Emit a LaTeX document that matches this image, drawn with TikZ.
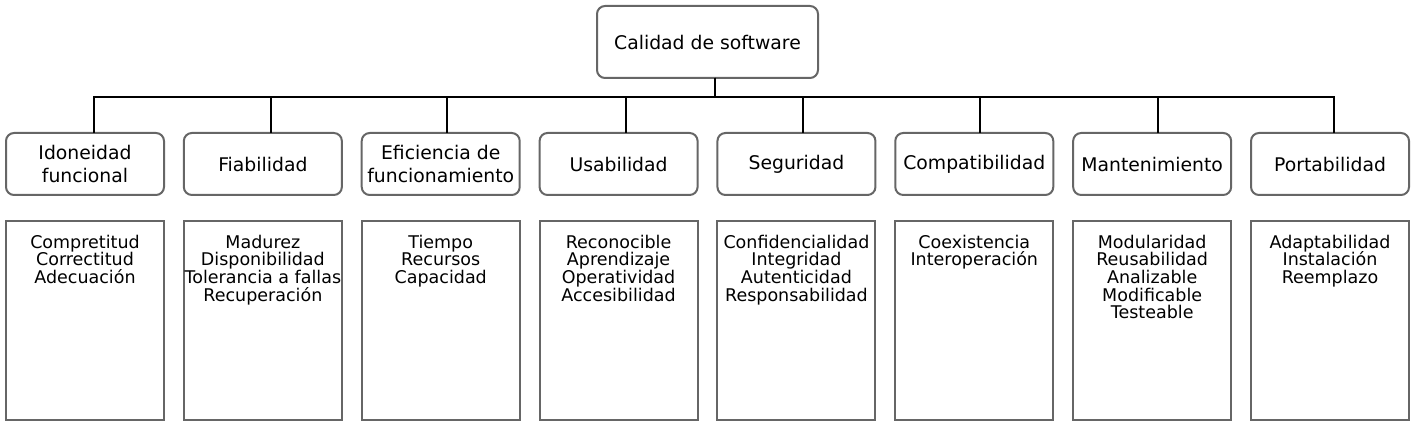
\documentclass[tikz,border=0pt]{standalone}
\usepackage{fontspec}
\setmainfont{DejaVu Sans}
\usetikzlibrary{positioning}
\definecolor{borde}{HTML}{666666}
\newcommand\textolista{\fontsize{8.75}{8.8}\selectfont\lineskiplimit-10pt\relax}
\tikzset{
    caja/.style={draw=borde, line width=1pt, rounded corners=4pt, fill=white,
        outer sep=0pt, inner sep=1pt, align=center},
    raiz/.style={caja, minimum width=110.5pt, minimum height=36pt,
        font=\fontsize{9.4}{11.6}\selectfont},
    atributo/.style={caja, minimum width=79pt, minimum height=31pt,
        font=\fontsize{9.4}{11.6}\selectfont},
    lista/.style={draw=borde, line width=1pt, outer sep=0pt,
        minimum width=79pt, minimum height=99.5pt},
    listatexto/.style={anchor=north, align=center, inner sep=0pt, yshift=-6.8pt,
        font=\textolista},
    conector/.style={draw=black, line width=1pt},
}
\begin{document}
\begin{tikzpicture}
    \useasboundingbox (0,0) rectangle (707.5pt,-213pt);
    \node[raiz] (calidad) at (353.75pt,-21pt) {Calidad de software};
    % atributos
    \node[atributo] (idoneidad) at (42.5pt,-82pt) {Idoneidad\\funcional};
    \node[atributo, right=9.93pt of idoneidad] (fiabilidad) {Fiabilidad};
    \node[atributo, right=9.93pt of fiabilidad] (eficiencia) {Eficiencia de\\funcionamiento};
    \node[atributo, right=9.93pt of eficiencia] (usabilidad) {Usabilidad};
    \node[atributo, right=9.93pt of usabilidad] (seguridad) {Seguridad};
    \node[atributo, right=9.93pt of seguridad] (compatibilidad) {Compatibilidad};
    \node[atributo, right=9.93pt of compatibilidad] (mantenimiento) {Mantenimiento};
    \node[atributo, right=9.93pt of mantenimiento] (portabilidad) {Portabilidad};
    % subcaracteristicas
    \node[lista, below=13pt of idoneidad,
        label={[listatexto]north:{Compretitud\\Correctitud\\Adecuación}}] (l-idoneidad) {};
    \node[lista, below=13pt of fiabilidad,
        label={[listatexto]north:{Madurez\\Disponibilidad\\Tolerancia a fallas\\Recuperación}}] (l-fiabilidad) {};
    \node[lista, below=13pt of eficiencia,
        label={[listatexto]north:{Tiempo\\Recursos\\Capacidad}}] (l-eficiencia) {};
    \node[lista, below=13pt of usabilidad,
        label={[listatexto]north:{Reconocible\\Aprendizaje\\Operatividad\\Accesibilidad}}] (l-usabilidad) {};
    \node[lista, below=13pt of seguridad,
        label={[listatexto]north:{Confidencialidad\\Integridad\\Autenticidad\\Responsabilidad}}] (l-seguridad) {};
    \node[lista, below=13pt of compatibilidad,
        label={[listatexto]north:{Coexistencia\\Interoperación}}] (l-compatibilidad) {};
    \node[lista, below=13pt of mantenimiento,
        label={[listatexto]north:{Modularidad\\Reusabilidad\\Analizable\\Modificable\\Testeable}}] (l-mantenimiento) {};
    \node[lista, below=13pt of portabilidad,
        label={[listatexto]north:{Adaptabilidad\\Instalación\\Reemplazo}}] (l-portabilidad) {};
    % conectores
    \coordinate (bus) at ([xshift=3.5pt,yshift=-9.5pt]calidad.south);
    \foreach \n/\d in {idoneidad/4.5,fiabilidad/4,eficiencia/3,usabilidad/3.5,
        seguridad/3.5,compatibilidad/3,mantenimiento/3,portabilidad/2}
        \draw[conector] ([xshift=3.5pt]calidad.south) -- (bus) -| ([xshift=\d pt]\n.north);
\end{tikzpicture}
\end{document}
